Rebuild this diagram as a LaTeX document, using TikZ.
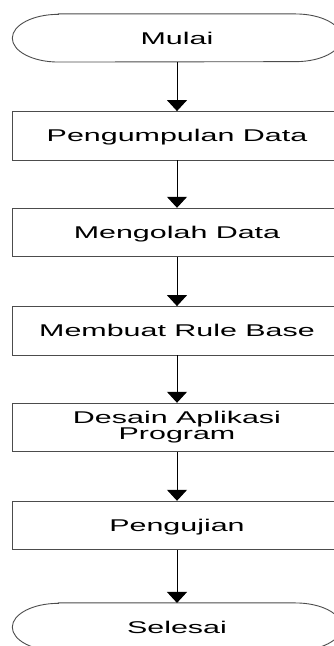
\documentclass[tikz,border=0pt]{standalone}
\usepackage{fontspec}
\setmainfont{Liberation Sans}
\usetikzlibrary{arrows.meta}
\newcommand{\hs}[1]{\scalebox{1.79}[1]{#1}}
\tikzset{
  lblfont/.style={font={\fontsize{17}{15.9}\selectfont\lineskiplimit=-20pt}},
  stepbox/.style={draw=black!70, line width=0.9pt, minimum width=329pt, minimum height=48.5pt, inner sep=0pt, lblfont, align=center},
  oneline/.style={text height=12.2pt, text depth=0pt},
  termnode/.style={minimum width=329pt, minimum height=47.7pt, inner sep=0pt, lblfont, oneline},
  termline/.style={draw=black!70, line width=0.9pt},
  arr/.style={line width=1pt, -{Triangle[width=20pt,length=11pt]}}
}
\begin{document}
\begin{tikzpicture}[x=1pt,y=1pt]
\useasboundingbox (0,0) rectangle (334,646);
\clip (0,0) rectangle (334,646);
\node[termnode] (t1) at (177,608) {\hs{Mulai}};
\node[stepbox, oneline] (b1) at (177,510.2) {\hs{Pengumpulan Data}};
\node[stepbox, oneline] (b2) at (177,413.5) {\hs{Mengolah Data}};
\node[stepbox, oneline] (b3) at (177,315.2) {\hs{Membuat Rule Base}};
\node[stepbox] (b4) at (177,218.5) {\hs{Desain Aplikasi}\\\hs{Program}};
\node[stepbox, oneline] (b5) at (177,120.5) {\hs{Pengujian}};
\node[termnode] (t2) at (177,19) {\hs{Selesai}};
\foreach \t in {t1,t2}{
  \draw[termline] ([xshift=46pt]\t.north west) -- ([xshift=-46pt]\t.north east)
    arc[start angle=90, end angle=-90, x radius=46pt, y radius=23.85pt]
    -- ([xshift=46pt]\t.south west)
    arc[start angle=270, end angle=90, x radius=46pt, y radius=23.85pt] -- cycle;
}
\draw[arr] (t1.south) -- (b1.north);
\draw[arr] (b1.south) -- (b2.north);
\draw[arr] (b2.south) -- (b3.north);
\draw[arr] (b3.south) -- (b4.north);
\draw[arr] (b4.south) -- (b5.north);
\draw[arr] (b5.south) -- (t2.north);
\end{tikzpicture}
\end{document}
